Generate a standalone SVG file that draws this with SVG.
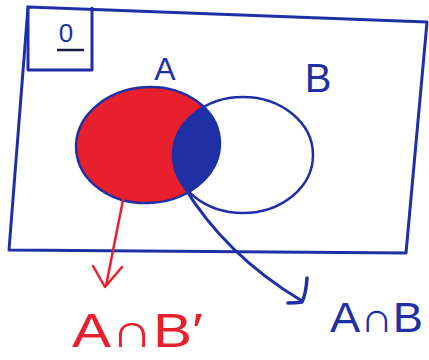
<svg xmlns="http://www.w3.org/2000/svg" width="429" height="360" viewBox="0 0 429 360">
<defs>
<style>
.frame{fill:none;stroke:#1f2fa6;stroke-width:3;stroke-linejoin:round;stroke-linecap:round}
.outline{fill:none;stroke:#1f2fa6;stroke-width:2.5}
.lbl{font-family:"Liberation Sans","DejaVu Sans",sans-serif}
.blue{fill:#1f2fa6}
.red{fill:#e8202e}
</style>
<clipPath id="clipA"><ellipse cx="148" cy="145" rx="72" ry="58" transform="rotate(-4 148 145)"/></clipPath>
</defs>
<rect width="429" height="360" fill="#ffffff"/>
<g id="universe">
<path class="frame" d="M28,7 L427,22 L406,253 L9,250 Z"/>
<path class="frame" d="M28,7 L28,70 L92,70 L92,8"/>
<text class="lbl" x="66" y="42" font-size="26" text-anchor="middle" fill="#1f2fa6">0</text>
<line x1="57" y1="50" x2="84" y2="50" stroke="#1a1a40" stroke-width="2.5"/>
</g>
<g id="setA">
<ellipse class="red" cx="148" cy="145" rx="72" ry="58" transform="rotate(-4 148 145)"/>
<ellipse class="outline" cx="148" cy="145" rx="72" ry="58" transform="rotate(-4 148 145)"/>
<text class="lbl" x="165" y="80" font-size="32" text-anchor="middle" fill="#1f2fa6">A</text>
</g>
<g id="setB">
<ellipse class="blue" cx="243" cy="155" rx="70" ry="58" clip-path="url(#clipA)"/>
<ellipse class="outline" cx="243" cy="155" rx="70" ry="58"/>
<text class="lbl" x="318" y="92" font-size="40" text-anchor="middle" fill="#1f2fa6">B</text>
</g>
<g id="connectors">
<line x1="124" y1="195" x2="106" y2="286" stroke="#e8202e" stroke-width="2.5"/>
<path d="M93,266 L105,287 L122,267" fill="none" stroke="#e8202e" stroke-width="2.5" stroke-linecap="round" stroke-linejoin="round"/>
<path d="M183,185 Q225,255 302,301" fill="none" stroke="#1f2fa6" stroke-width="3"/>
<path d="M307,278 Q306,294 302,302 Q296,303 288,303" fill="none" stroke="#1f2fa6" stroke-width="3.5" stroke-linecap="round"/>
</g>
<g id="labelAnotB">
<text class="lbl" x="72" y="347" font-size="48" fill="#e8202e" textLength="131" lengthAdjust="spacingAndGlyphs">A∩B′</text>
</g>
<g id="labelAandB">
<text class="lbl" x="330" y="332" font-size="42" fill="#1f2fa6" textLength="93" lengthAdjust="spacingAndGlyphs">A∩B</text>
</g>
</svg>
